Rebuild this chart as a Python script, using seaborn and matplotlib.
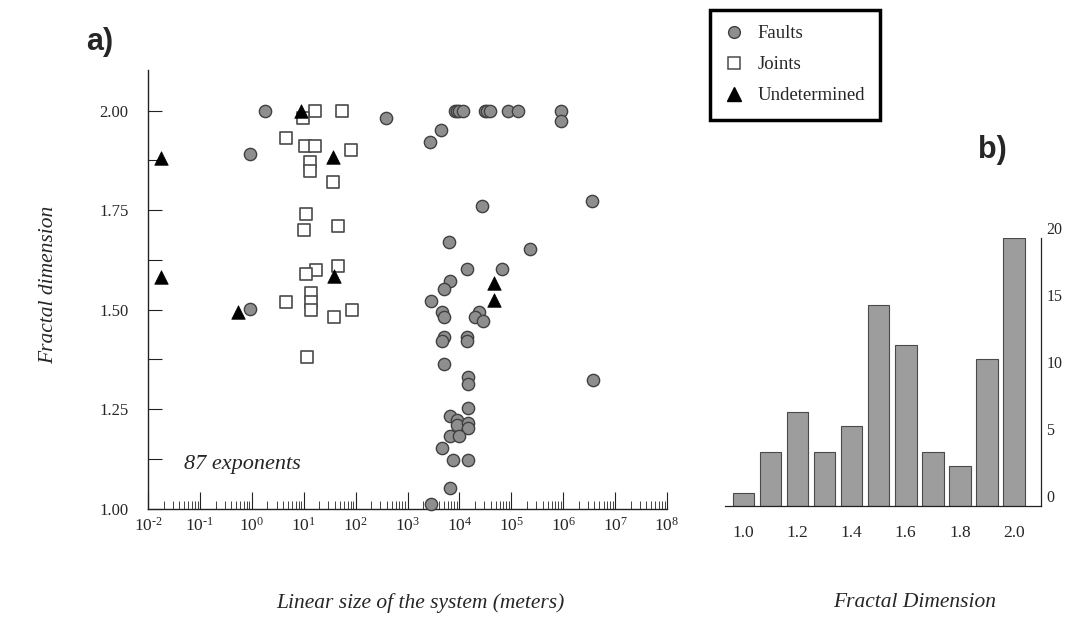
import numpy as np
import matplotlib
matplotlib.use("Agg")
import matplotlib.pyplot as plt
from matplotlib.ticker import (LogLocator, FixedLocator, FormatStrFormatter,
                               NullFormatter, FuncFormatter)
from matplotlib.lines import Line2D
import seaborn as sns

# ---------------------------------------------------------------------------
# Data: fractal dimension against linear size of the system (log10 of metres)
# ---------------------------------------------------------------------------
faults_log10_size = [0.25, -0.04, 2.59, 3.43, 3.65,
                     3.91, 3.96, 4.00, 4.07, 4.50, 4.54, 4.59, 4.94, 5.12, 5.95,
                     5.95, 4.43, 6.56, 3.80, 5.36, 4.14, 4.83, -0.03,
                     3.82, 3.71, 3.45, 3.67, 3.71, 4.38, 4.31, 4.46,
                     3.71, 3.67, 4.14, 4.14, 3.71, 4.16, 4.16, 4.16,
                     3.82, 3.95, 3.95, 4.16, 4.16, 3.82, 3.99, 3.67,
                     3.88, 4.16, 3.82, 3.46, 6.58]
faults_dimension = [2.00, 1.89, 1.982, 1.922, 1.951,
                    2.00, 2.00, 2.00, 2.00, 2.00, 2.00, 2.00, 2.00, 2.00, 2.00,
                    1.973, 1.761, 1.773, 1.671, 1.652, 1.602, 1.602, 1.501,
                    1.572, 1.552, 1.522, 1.493, 1.482, 1.493, 1.482, 1.472,
                    1.432, 1.421, 1.432, 1.421, 1.363, 1.332, 1.313, 1.254,
                    1.234, 1.223, 1.210, 1.215, 1.202, 1.183, 1.183, 1.153,
                    1.122, 1.122, 1.053, 1.011, 1.323]

joints_log10_size = [1.21, 1.74, 0.985, 0.65, 1.03, 1.21, 1.905, 1.13, 1.13,
                     1.56, 1.05, 1.00, 1.66, 1.66, 1.23, 1.05, 0.66, 1.15,
                     1.15, 1.15, 1.58, 1.93, 1.06]
joints_dimension = [2.00, 2.00, 1.981, 1.931, 1.91, 1.91, 1.901, 1.872, 1.849,
                    1.82, 1.74, 1.70, 1.71, 1.61, 1.60, 1.59, 1.52, 1.541,
                    1.52, 1.50, 1.481, 1.50, 1.382]

undetermined_log10_size = [-1.74, 0.95, 1.56, -1.74, -0.27, 1.58, 4.67, 4.67]
undetermined_dimension = [1.88, 2.00, 1.883, 1.581, 1.495, 1.585, 1.566, 1.524]

# Histogram of all exponents
dimension_bins = [1.0, 1.1, 1.2, 1.3, 1.4, 1.5, 1.6, 1.7, 1.8, 1.9, 2.0]
exponent_counts = [1, 4, 7, 4, 6, 15, 12, 4, 3, 11, 20]

series_labels = ["Faults", "Joints", "Undetermined"]
y_ticks = [1.00, 1.25, 1.50, 1.75, 2.00]
y_minor_ticks = [1.125, 1.375, 1.625, 1.875]
hist_xticks = [1.0, 1.2, 1.4, 1.6, 1.8, 2.0]
hist_minor_xticks = [1.1, 1.3, 1.5, 1.7, 1.9]
hist_yticks = [0, 5, 10, 15, 20]

# ---------------------------------------------------------------------------
sns.set_style("white")
plt.rcParams["font.family"] = ["Liberation Serif", "DejaVu Serif"]
plt.rcParams["mathtext.fontset"] = "custom"
plt.rcParams["mathtext.rm"] = "Liberation Serif"
plt.rcParams["mathtext.it"] = "Liberation Serif:italic"
plt.rcParams["axes.unicode_minus"] = False

fault_face, fault_edge = "#8e8e8e", "#404040"
joint_edge = "#4a4a4a"
bar_face, bar_edge = "#9d9d9d", "#4a4a4a"
ink = "#222222"


def decade_label(value, pos):
    """Power-of-ten label with a short hyphen for negative exponents."""
    exponent = int(round(np.log10(value)))
    if exponent < 0:
        return r"$\mathdefault{10^{\text{-}%d}}$" % (-exponent)
    return r"$\mathdefault{10^{%d}}$" % exponent


fig = plt.figure(figsize=(10.69, 6.21), dpi=100)

# ------------------------------- panel a ----------------------------------
ax = fig.add_axes([0.13845, 0.18084, 0.4855, 0.70644])
ax.set_xscale("log")

sns.scatterplot(x=10 ** np.asarray(faults_log10_size), y=faults_dimension, ax=ax,
                marker="o", s=78, color=fault_face, edgecolor=fault_edge,
                linewidth=1.0, clip_on=False, zorder=3, legend=False)
sns.scatterplot(x=10 ** np.asarray(joints_log10_size), y=joints_dimension, ax=ax,
                marker="s", s=70, color="white", edgecolor=joint_edge,
                linewidth=1.2, clip_on=False, zorder=4, legend=False)
sns.scatterplot(x=10 ** np.asarray(undetermined_log10_size), y=undetermined_dimension,
                ax=ax, marker="^", s=95, color="black", edgecolor="black",
                linewidth=0.5, clip_on=False, zorder=5, legend=False)

ax.set_xlim(1e-2, 1e8)
ax.set_ylim(1.0, 2.102)
for side in ("top", "right"):
    ax.spines[side].set_visible(False)
for side in ("left", "bottom"):
    ax.spines[side].set_color(ink)
    ax.spines[side].set_linewidth(1.0)

ax.xaxis.set_major_locator(LogLocator(base=10, numticks=20))
ax.xaxis.set_major_formatter(FuncFormatter(decade_label))
ax.xaxis.set_minor_locator(LogLocator(base=10, subs=np.arange(2, 10) * 1.0, numticks=200))
ax.xaxis.set_minor_formatter(NullFormatter())
ax.yaxis.set_major_locator(FixedLocator(y_ticks))
ax.yaxis.set_minor_locator(FixedLocator(y_minor_ticks))
ax.yaxis.set_major_formatter(FormatStrFormatter("%.2f"))

ax.tick_params(axis="x", which="major", bottom=True, direction="in", length=12,
               width=0.8, pad=6, labelsize=12.5, color=ink)
ax.tick_params(axis="x", which="minor", bottom=True, direction="in", length=6,
               width=0.6, color=ink)
ax.tick_params(axis="y", which="both", left=True, direction="in", length=10,
               width=0.8, pad=14, labelsize=12, color=ink)

ax.set_xlabel("Linear size of the system (meters)", fontsize=15.5, style="italic")
ax.set_ylabel("Fractal dimension", fontsize=15.5, style="italic")
ax.xaxis.set_label_coords(0.524, -0.192)
ax.yaxis.set_label_coords(-0.173, 0.51)

ax.text(10 ** -1.30, 1.11, "87 exponents", fontsize=16, style="italic",
        ha="left", va="center")

# ------------------------------- panel b ----------------------------------
axh = fig.add_axes([0.6782, 0.18519, 0.2956, 0.43156])
sns.barplot(x=dimension_bins, y=exponent_counts, ax=axh, native_scale=True,
            orient="x", width=0.8, color=bar_face, saturation=1,
            edgecolor=bar_edge, linewidth=0.8)
axh.set_xlim(0.932, 2.10)
axh.set_ylim(0, 20)
for side in ("top", "left"):
    axh.spines[side].set_visible(False)
for side in ("right", "bottom"):
    axh.spines[side].set_color(ink)
    axh.spines[side].set_linewidth(0.9)

axh.set_xticks(hist_xticks)
axh.set_xticklabels([f"{v:.1f}" for v in hist_xticks])
axh.set_xticks(hist_minor_xticks, minor=True)
axh.tick_params(axis="x", which="major", length=0, pad=14, labelsize=12.5)
axh.tick_params(axis="x", which="minor", bottom=True, direction="in", length=4,
                width=0.8, color=ink)

axh.yaxis.tick_right()
axh.set_yticks(hist_yticks)
axh.set_yticklabels([str(v) for v in hist_yticks])
axh.tick_params(axis="y", length=0, pad=4, labelsize=11.5)
plt.setp(axh.get_yticklabels(), verticalalignment="bottom")

axh.set_xlabel("Fractal Dimension", fontsize=15.5, style="italic")
axh.set_ylabel("")
axh.xaxis.set_label_coords(0.60, -0.325)

# ------------------------------- legend -----------------------------------
handles = [
    Line2D([], [], linestyle="none", marker="o", markersize=8.5,
           markerfacecolor=fault_face, markeredgecolor=fault_edge, markeredgewidth=1.0),
    Line2D([], [], linestyle="none", marker="s", markersize=8,
           markerfacecolor="white", markeredgecolor=joint_edge, markeredgewidth=1.1),
    Line2D([], [], linestyle="none", marker="^", markersize=10,
           markerfacecolor="black", markeredgecolor="black"),
]
leg = fig.legend(handles, series_labels, loc="upper left",
                 bbox_to_anchor=(710 / 1069, 1 - 10 / 621), frameon=True,
                 fancybox=False, framealpha=1, edgecolor="black",
                 prop={"family": "Liberation Serif", "size": 13.5},
                 borderpad=0.8, labelspacing=0.75, handlelength=1.0,
                 handletextpad=0.75, borderaxespad=0)
leg.get_frame().set_linewidth(2.5)

# ------------------------------- panel tags -------------------------------
fig.text(0.0935, 0.932, "a)", fontfamily="Liberation Sans", fontweight="bold",
         fontsize=22, ha="center", va="center")
fig.text(0.928, 0.7585, "b)", fontfamily="Liberation Sans", fontweight="bold",
         fontsize=22, ha="center", va="center")

fig.savefig("out.png", dpi=100)
